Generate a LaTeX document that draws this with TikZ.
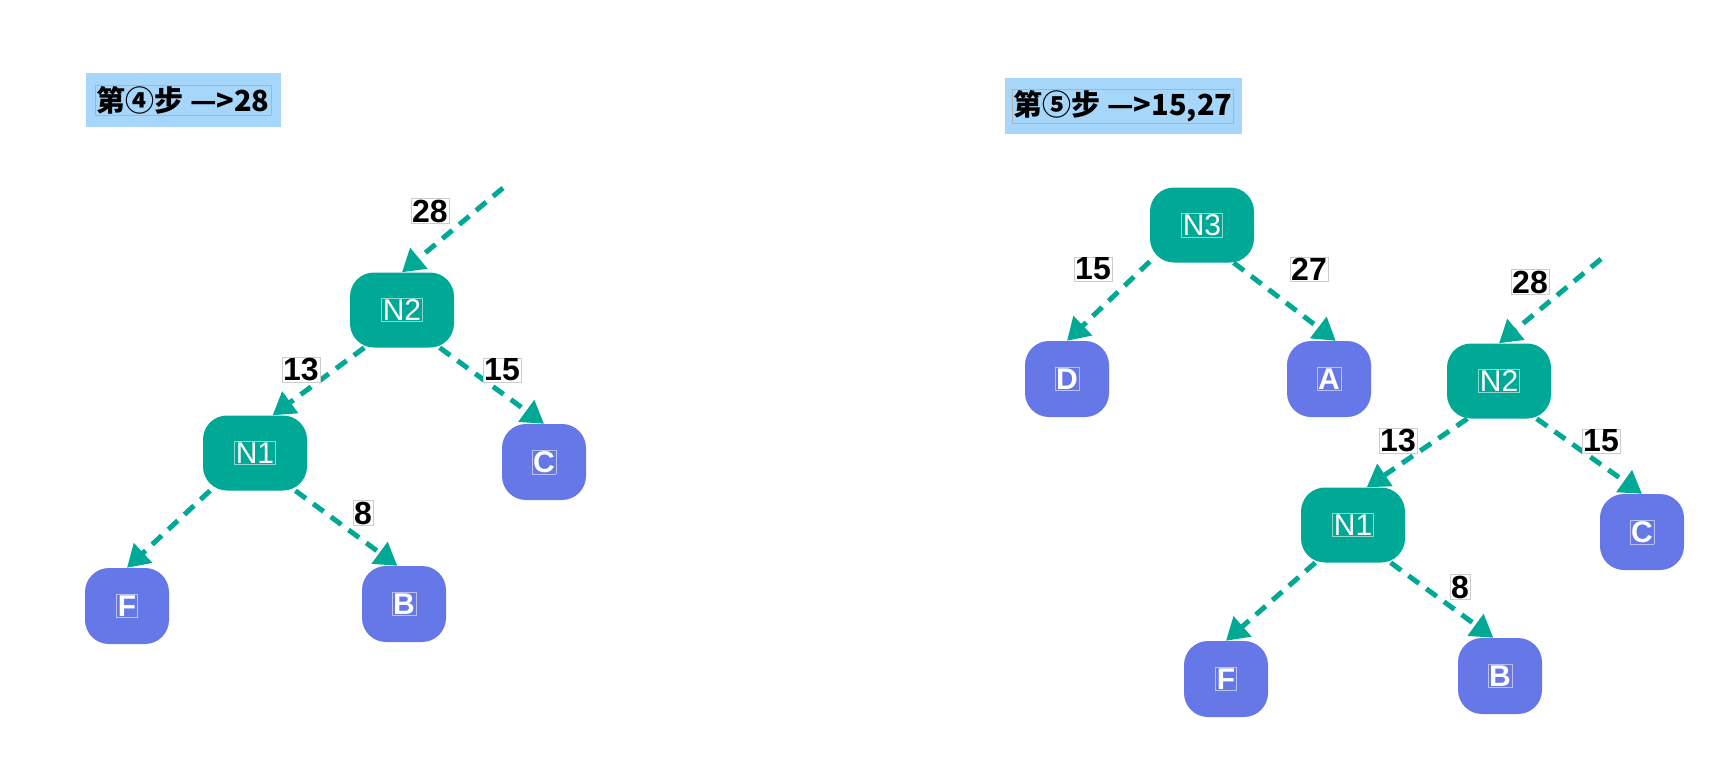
\documentclass[tikz,border=0pt]{standalone}
\usepackage{fontspec}
\setmainfont{Liberation Sans}
\newfontfamily\cjk{Noto Sans CJK SC}
\usetikzlibrary{arrows.meta,positioning}
\definecolor{tealn}{HTML}{00A896}
\definecolor{bluen}{HTML}{6678E8}
\definecolor{titlebg}{HTML}{A6D6FA}
\newcommand{\inframe}[3]{{\setlength{\fboxsep}{1pt}\setlength{\fboxrule}{0.5pt}\color{#1}\fbox{\color{#2}#3}}}

\begin{document}
\begin{tikzpicture}[x=1pt,y=-1pt,
  inode/.style={fill=tealn, rounded corners=24pt, minimum width=104pt, minimum height=75pt, font=\fontsize{30}{35}\selectfont},
  leaf/.style={fill=bluen, rounded corners=24pt, minimum width=84pt, minimum height=76pt, font=\fontsize{30}{35}\selectfont\bfseries},
  weight/.style={fill=white, draw=gray!40, line width=0.5pt, inner sep=1pt, font=\fontsize{32}{37}\selectfont\bfseries},
  stepbox/.style={fill=titlebg, inner sep=0pt, font=\cjk\fontsize{29}{34}\selectfont\bfseries},
  edge/.style={draw=tealn, line width=5pt, dash pattern=on 13pt off 9pt, -{Triangle[length=22pt,width=26pt]}}]
\useasboundingbox (0,0) rectangle (1716,776);

% step 4
\node[stepbox, minimum width=195pt, minimum height=53pt] (t4) at (183,100) {\inframe{gray!60}{black}{第④步 —>28}};
\node[inode] (a2) at (402,310) {\inframe{white!55!tealn}{white}{N2}};
\node[inode] (a1) at (255,453) {\inframe{white!55!tealn}{white}{N1}};
\node[leaf] (ac) at (544,462) {\inframe{white!55!bluen}{white}{C}};
\node[leaf] (af) at (127,606) {\inframe{white!55!bluen}{white}{F}};
\node[leaf] (ab) at (404,604) {\inframe{white!55!bluen}{white}{B}};
\coordinate (ain) at (503,188);
\draw[edge] (ain) -- (a2.north);
\draw[edge] (a2.-135) -- (a1.65);
\draw[edge] (a2.-45) -- (ac.north);
\draw[edge] (a1.-140) -- (af.north);
\draw[edge] (a1.-43) -- (ab.100);
\node[weight] at (430,211) {28};
\node[weight] at (301,370) {13};
\node[weight] at (502,370) {15};
\node[weight] at (363,513) {8};

% step 5
\node[stepbox, minimum width=237pt, minimum height=55pt] (t5) at (1123,106) {\inframe{gray!60}{black}{第⑤步 —>15,27}};
\node[inode] (b3) at (1202,225) {\inframe{white!55!tealn}{white}{N3}};
\node[leaf] (bd) at (1067,379) {\inframe{white!55!bluen}{white}{D}};
\node[leaf] (ba) at (1329,379) {\inframe{white!55!bluen}{white}{A}};
\node[inode] (b2) at (1499,381) {\inframe{white!55!tealn}{white}{N2}};
\node[inode] (b1) at (1353,525) {\inframe{white!55!tealn}{white}{N1}};
\node[leaf] (bc) at (1642,532) {\inframe{white!55!bluen}{white}{C}};
\node[leaf] (bf) at (1226,679) {\inframe{white!55!bluen}{white}{F}};
\node[leaf] (bb) at (1500,676) {\inframe{white!55!bluen}{white}{B}};
\coordinate (bin) at (1601,259);
\draw[edge] (b3.-145) -- (bd.north);
\draw[edge] (b3.-50) -- (ba.80);
\draw[edge] (bin) -- (b2.north);
\draw[edge] (b2.-130) -- (b1.70);
\draw[edge] (b2.-45) -- (bc.north);
\draw[edge] (b1.-135) -- (bf.north);
\draw[edge] (b1.-45) -- (bb.100);
\node[weight] at (1093,269) {15};
\node[weight] at (1309,269) {27};
\node[weight] at (1530,282) {28};
\node[weight] at (1398,441) {13};
\node[weight] at (1601,441) {15};
\node[weight] at (1460,587) {8};
\end{tikzpicture}
\end{document}
